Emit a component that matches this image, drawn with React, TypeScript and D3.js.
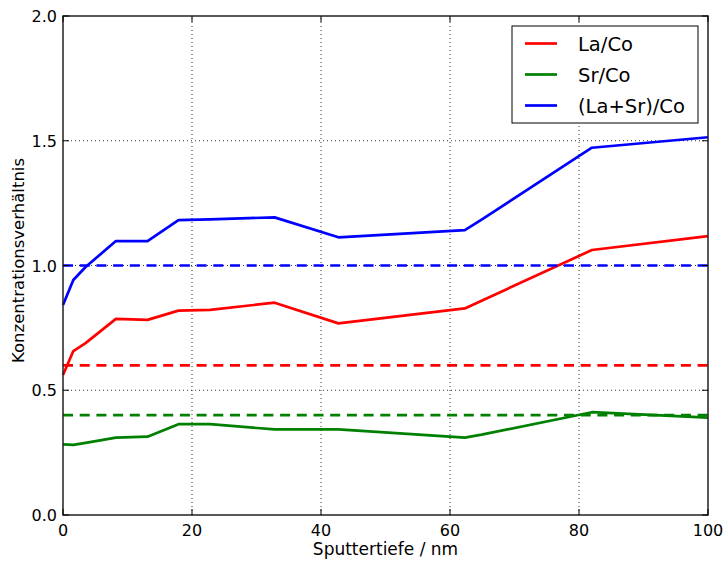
import * as d3 from 'd3';
import React, { useEffect, useRef } from 'react';

// Sputtertiefe in nm
const depth = [0, 1.6, 3.5, 8.2, 13.1, 17.9, 22.8, 32.8, 42.7, 62.3, 64.9, 82.0, 100];
const laCo = [0.561, 0.657, 0.689, 0.786, 0.782, 0.819, 0.822, 0.851, 0.768, 0.828, 0.859, 1.062, 1.118];
const srCo = [0.283, 0.281, 0.289, 0.31, 0.314, 0.364, 0.364, 0.343, 0.343, 0.31, 0.322, 0.412, 0.39];
const sumCo = [0.842, 0.942, 0.994, 1.098, 1.098, 1.182, 1.185, 1.193, 1.113, 1.142, 1.184, 1.472, 1.514];

const seriesNames = ['La/Co', 'Sr/Co', '(La+Sr)/Co'];
const seriesColors = ['#ff0000', '#008000', '#0000ff'];
// nominal ratios (dashed lines)
const refLevels = [0.6, 0.4, 1.0];

const xTicks = [0, 20, 40, 60, 80, 100];
const yTicks = [0, 0.5, 1.0, 1.5, 2.0];

const width = 725;
const height = 563;
const margin = { left: 63, right: 17, top: 16, bottom: 48 };
const font = 'DejaVu Sans, sans-serif';

export default function App() {
  const ref = useRef<SVGSVGElement>(null);

  useEffect(() => {
    const svg = d3.select(ref.current);
    svg.selectAll('*').remove();

    const x = d3.scaleLinear().domain([0, 100]).range([margin.left, width - margin.right]);
    const y = d3.scaleLinear().domain([0, 2]).range([height - margin.bottom, margin.top]);
    const [x0, x1] = x.range();
    const [y0, y1] = y.range();

    svg.append('rect').attr('width', width).attr('height', height).attr('fill', '#fff');

    // grid
    const grid = svg.append('g').attr('stroke', '#000').attr('stroke-width', 0.8).attr('stroke-dasharray', '1,3');
    xTicks.slice(1, -1).forEach((t) => {
      grid.append('line').attr('x1', x(t)).attr('x2', x(t)).attr('y1', y0).attr('y2', y1);
    });
    yTicks.slice(1, -1).forEach((t) => {
      grid.append('line').attr('x1', x0).attr('x2', x1).attr('y1', y(t)).attr('y2', y(t));
    });

    const allSeries = [laCo, srCo, sumCo];
    const line = d3
      .line<number>()
      .x((d, i) => x(depth[i]))
      .y((d) => y(d));

    allSeries.forEach((s, i) => {
      svg
        .append('path')
        .attr('d', line(s))
        .attr('fill', 'none')
        .attr('stroke', seriesColors[i])
        .attr('stroke-width', 2.7)
        .attr('stroke-linejoin', 'round');
    });

    refLevels.forEach((v, i) => {
      svg
        .append('line')
        .attr('x1', x0)
        .attr('x2', x1)
        .attr('y1', y(v))
        .attr('y2', y(v))
        .attr('stroke', seriesColors[i])
        .attr('stroke-width', 2.7)
        .attr('stroke-dasharray', '10,6.7');
    });

    // frame
    svg
      .append('rect')
      .attr('x', x0)
      .attr('y', y1)
      .attr('width', x1 - x0)
      .attr('height', y0 - y1)
      .attr('fill', 'none')
      .attr('stroke', '#222')
      .attr('stroke-width', 1.5);

    // ticks inside, all four sides
    const tk = svg.append('g').attr('stroke', '#000').attr('stroke-width', 1);
    xTicks.forEach((t) => {
      tk.append('line').attr('x1', x(t)).attr('x2', x(t)).attr('y1', y0).attr('y2', y0 - 6);
      tk.append('line').attr('x1', x(t)).attr('x2', x(t)).attr('y1', y1).attr('y2', y1 + 6);
    });
    yTicks.forEach((t) => {
      tk.append('line').attr('x1', x0).attr('x2', x0 + 6).attr('y1', y(t)).attr('y2', y(t));
      tk.append('line').attr('x1', x1).attr('x2', x1 - 6).attr('y1', y(t)).attr('y2', y(t));
    });

    const fmtX = d3.format('d');
    const fmtY = d3.format('.1f');
    svg
      .append('g')
      .selectAll('text')
      .data(xTicks)
      .enter()
      .append('text')
      .attr('x', (d) => x(d))
      .attr('y', y0 + 21)
      .attr('text-anchor', 'middle')
      .attr('font-family', font)
      .attr('font-size', 16)
      .text((d) => fmtX(d));

    svg
      .append('g')
      .selectAll('text')
      .data(yTicks)
      .enter()
      .append('text')
      .attr('x', x0 - 6)
      .attr('y', (d) => y(d) + 6)
      .attr('text-anchor', 'end')
      .attr('font-family', font)
      .attr('font-size', 16)
      .text((d) => fmtY(d));

    svg
      .append('text')
      .attr('x', (x0 + x1) / 2)
      .attr('y', height - 8)
      .attr('text-anchor', 'middle')
      .attr('font-family', font)
      .attr('font-size', 17)
      .text('Sputtertiefe / nm');

    svg
      .append('text')
      .attr('transform', `translate(24,${(y0 + y1) / 2 - 5}) rotate(-90)`)
      .attr('text-anchor', 'middle')
      .attr('font-family', font)
      .attr('font-size', 16.5)
      .text('Konzentrationsverhältnis');

    // legend
    const lg = svg.append('g');
    lg.append('rect')
      .attr('x', 512)
      .attr('y', 26)
      .attr('width', 186)
      .attr('height', 97)
      .attr('fill', '#fff')
      .attr('stroke', '#000')
      .attr('stroke-width', 1);
    seriesNames.forEach((n, i) => {
      const yy = 43.5 + i * 31;
      lg.append('line')
        .attr('x1', 525)
        .attr('x2', 557)
        .attr('y1', yy)
        .attr('y2', yy)
        .attr('stroke', seriesColors[i])
        .attr('stroke-width', 2.7);
      lg.append('text')
        .attr('x', 578)
        .attr('y', yy + 7)
        .attr('font-family', font)
        .attr('font-size', 19.5)
        .text(n);
    });
  }, []);

  return (
    <svg
      ref={ref}
      width={width}
      height={height}
      viewBox={`0 0 ${width} ${height}`}
      style={{ position: 'absolute', left: 0, top: 0 }}
    />
  );
}
